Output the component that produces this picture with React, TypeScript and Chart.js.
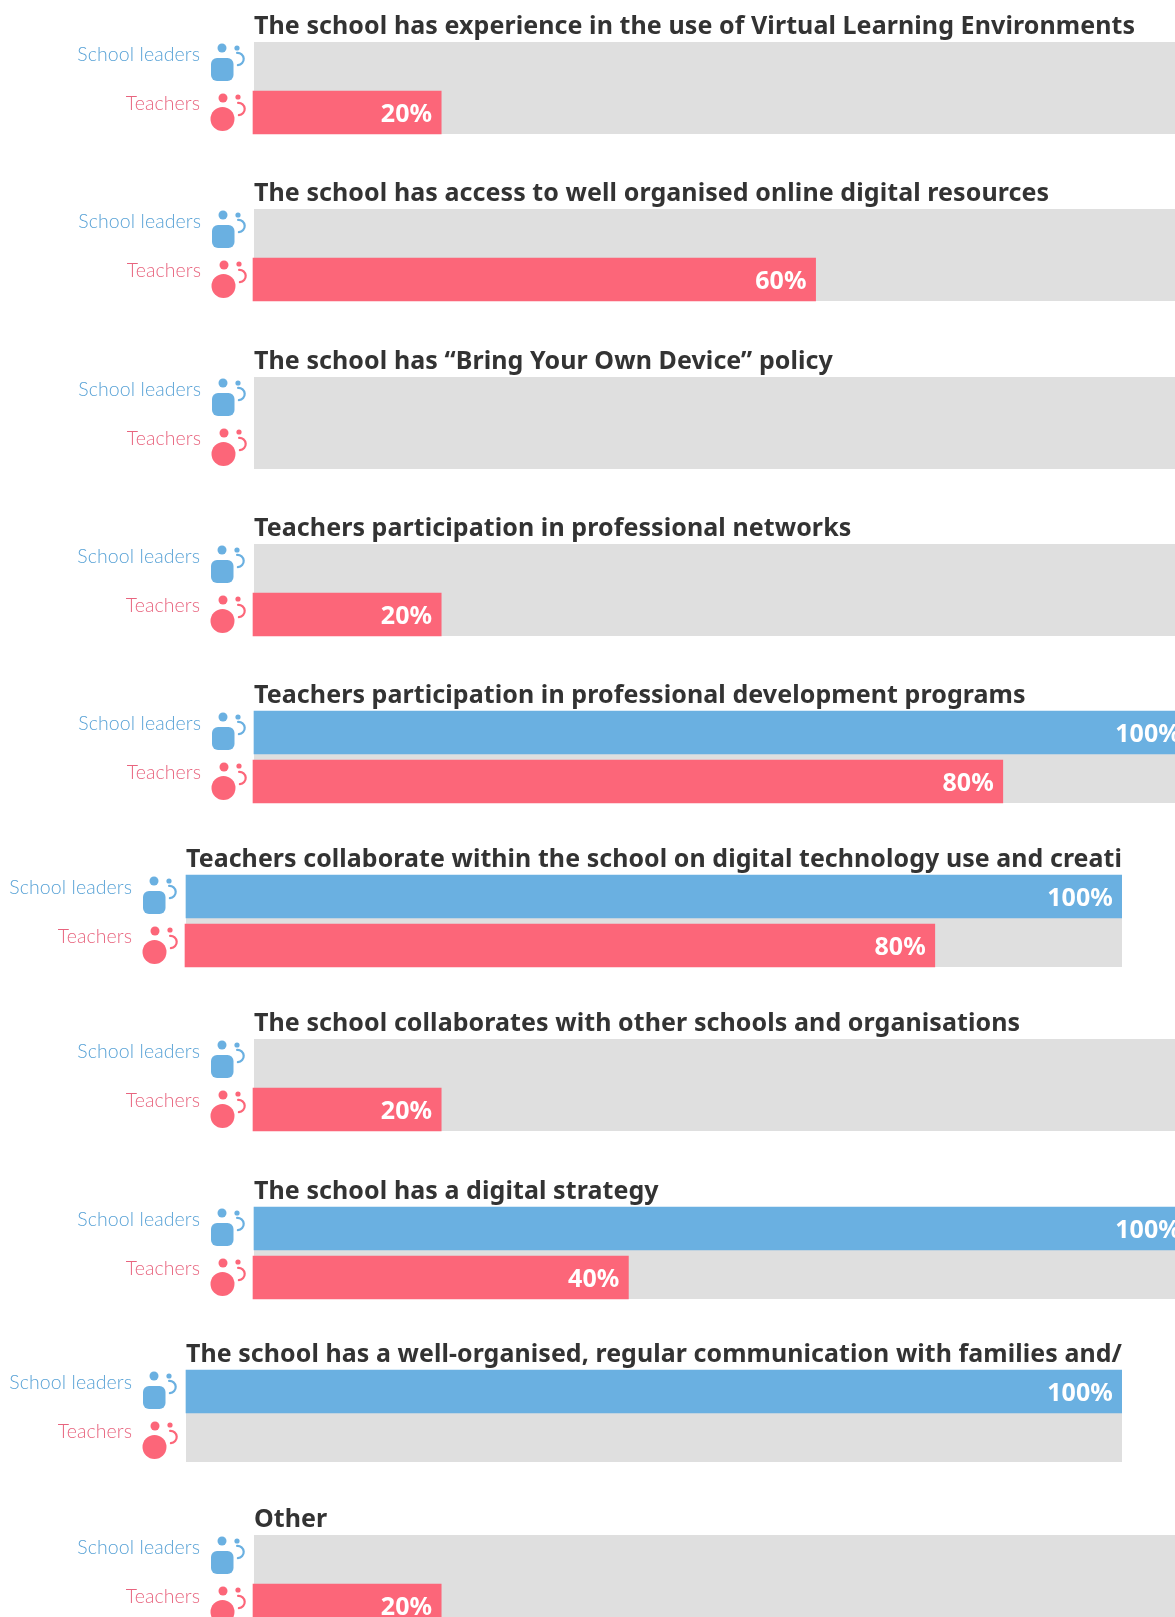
import React, { useEffect, useRef } from "react";
import { Chart, registerables } from "chart.js";

Chart.register(...registerables);

const seriesNames = ["School leaders", "Teachers"];
const titles = [
  "The school has experience in the use of Virtual Learning Environments",
  "The school has access to well organised online digital resources",
  "The school has “Bring Your Own Device” policy",
  "Teachers participation in professional networks",
  "Teachers participation in professional development programs",
  "Teachers collaborate within the school on digital technology use and creati",
  "The school collaborates with other schools and organisations",
  "The school has a digital strategy",
  "The school has a well-organised, regular communication with families and/",
  "Other",
];
const schoolLeaders = [0, 0, 0, 0, 100, 100, 0, 100, 100, 0];
const teachers = [20, 60, 0, 20, 80, 80, 20, 40, 0, 20];
const panelLeft = [68, 68, 68, 68, 68, 0, 68, 68, 0, 68];
const trackTop = [42, 209, 377, 544, 711, 875, 1039, 1207, 1370, 1535];
const sideShift = [0, 1, 1, 0, 1, 0, 0, 0, 0, 0];

const BLUE = "#6AB0E1";
const RED = "#FC6679";
const GREY = "#DFDFDF";
const TITLE_FONT = "'Noto Sans'";
const LABEL_FONT = "Lato";

const decor = {
  id: "decor",
  beforeDraw(chart: any) {
    chart.ctx.letterSpacing = "0.08px";
  },
  beforeDatasetsDraw(chart: any) {
    const { ctx, scales } = chart;
    const x0 = scales.x.getPixelForValue(0);
    const x1 = scales.x.getPixelForValue(100);
    const top = scales.y.getPixelForValue(0) - 21.5;
    const bottom = scales.y.getPixelForValue(1) + 21.5;
    ctx.save();
    ctx.fillStyle = GREY;
    ctx.fillRect(x0, top, x1 - x0, bottom - top);
    ctx.restore();
  },
  afterDatasetsDraw(chart: any, _a: any, opts: any) {
    const { ctx, scales } = chart;
    const x0 = scales.x.getPixelForValue(0) + (opts.shift || 0);
    ctx.save();
    chart.data.datasets.forEach((ds: any, di: number) => {
      const el = chart.getDatasetMeta(di).data[di];
      const v = ds.data[di];
      if (v) {
        ctx.font = `bold 25px ${TITLE_FONT}`;
        ctx.fillStyle = "#fff";
        ctx.textAlign = "right";
        ctx.textBaseline = "middle";
        ctx.fillText(`${v}%`, el.x - 9, el.y + 2);
      }
    });
    // person icons beside each category
    const yA = scales.y.getPixelForValue(0) - 21.5;
    const yB = scales.y.getPixelForValue(1) - 21.5;
    const drawExtras = (color: string, y: number, dx: number, dy: number) => {
      ctx.fillStyle = color;
      ctx.strokeStyle = color;
      ctx.beginPath();
      ctx.arc(x0 - 32 + dx, y + 6 + dy, 4.5, 0, Math.PI * 2);
      ctx.fill();
      ctx.beginPath();
      ctx.arc(x0 - 17 + dx, y + 6, 2.6, 0, Math.PI * 2);
      ctx.fill();
      ctx.lineWidth = 2.2;
      ctx.lineCap = "round";
      ctx.beginPath();
      ctx.arc(x0 - 16.5 + dx, y + 17 + dy, 6.2, -Math.PI * 0.52, Math.PI * 0.48);
      ctx.stroke();
    };
    drawExtras(BLUE, yA, 0, 0);
    ctx.fillStyle = BLUE;
    ctx.beginPath();
    ctx.roundRect(x0 - 43, yA + 16, 22.5, 23, 6);
    ctx.fill();
    drawExtras(RED, yB, 1, 1);
    ctx.fillStyle = RED;
    ctx.beginPath();
    ctx.arc(x0 - 31.5, yB + 28, 12, 0, Math.PI * 2);
    ctx.fill();
    ctx.restore();
  },
};

function Panel({ index }: { index: number }) {
  const ref = useRef<HTMLCanvasElement>(null);
  useEffect(() => {
    const chart = new Chart(ref.current!, {
      type: "bar",
      plugins: [decor],
      data: {
        labels: seriesNames,
        datasets: [
          { label: seriesNames[0], data: [schoolLeaders[index] || null, null], backgroundColor: BLUE, grouped: false, barThickness: 43, clip: false },
          { label: seriesNames[1], data: [null, teachers[index] || null], backgroundColor: RED, grouped: false, barThickness: 43, clip: false, base: -0.107 },
        ] as any,
      },
      options: {
        indexAxis: "y",
        animation: false,
        responsive: false,
        devicePixelRatio: 1,
        scales: {
          x: { min: 0, max: 100, display: false },
          y: {
            grid: { display: true, color: "transparent", drawOnChartArea: false, drawTicks: true, tickLength: 54 - sideShift[index] },
            border: { display: false },
            afterFit(scale: any) {
              scale.width = 186;
            },
            ticks: {
              padding: 0,
              labelOffset: -8.5,
              font: { family: LABEL_FONT, weight: "300", size: 19.5, lineHeight: "20px" },
              color: (c: any) => (c.index === 0 ? "#58A2D6" : "#E8647E"),
            },
          },
        },
        plugins: {
          legend: { display: false },
          tooltip: { enabled: false },
          decor: { shift: sideShift[index] },
          title: {
            display: true,
            text: titles[index],
            align: "start",
            fullSize: false,
            color: "#333333",
            font: { family: TITLE_FONT, weight: "bold", size: 25, lineHeight: 1.2 },
            padding: { top: 2.5, bottom: -2.5 },
          },
        },
      } as any,
    });
    return () => chart.destroy();
  }, [index]);
  return (
    <canvas
      ref={ref}
      width={1122}
      height={138}
      style={{ position: "absolute", left: panelLeft[index], top: trackTop[index] - 33, width: 1122, height: 138 }}
    />
  );
}

export default function App() {
  return (
    <div style={{ position: "absolute", left: 0, top: 0, width: 1175, height: 1617, overflow: "hidden", background: "#fff" }}>
      {titles.map((_, i) => (
        <Panel key={i} index={i} />
      ))}
    </div>
  );
}
